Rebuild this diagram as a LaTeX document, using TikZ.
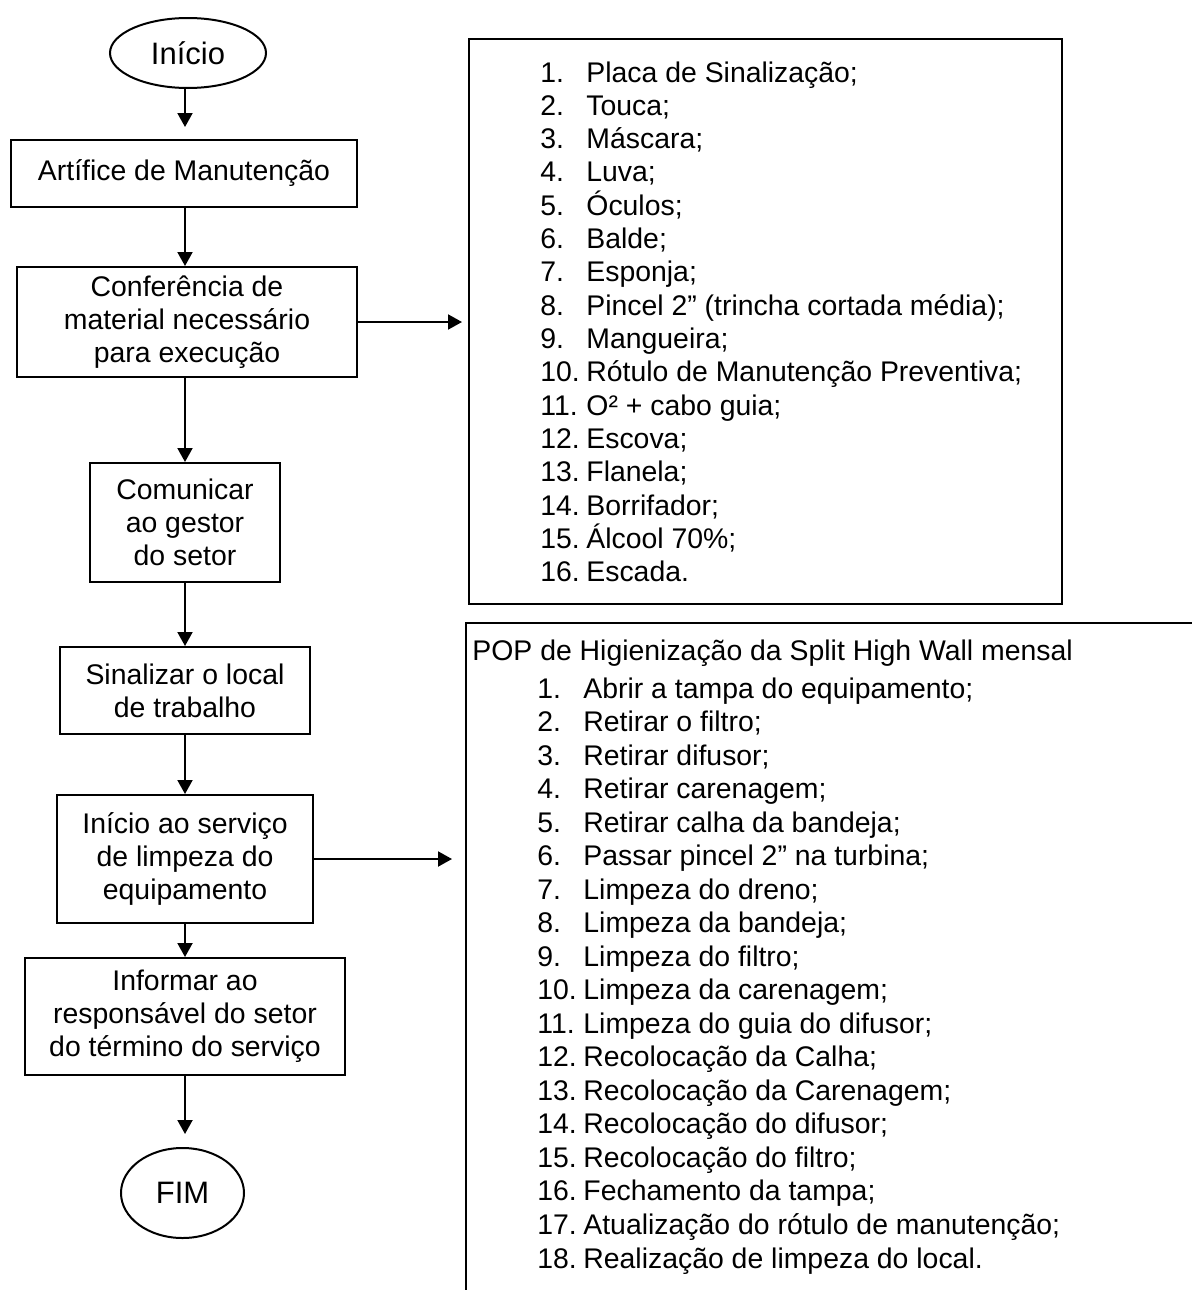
\documentclass[tikz,border=0pt]{standalone}
\usepackage{fontspec}
\setmainfont{Liberation Sans}
\usetikzlibrary{arrows.meta,shapes.geometric}
\begin{document}
\begin{tikzpicture}[x=0.5pt,y=-0.5pt,
  txt/.style={font=\fontsize{14.2pt}{16.5pt}\selectfont,inner sep=0pt},
  procbox/.style={txt,draw,line width=1pt,align=center},
  term/.style={font=\fontsize{15.5pt}{17pt}\selectfont,inner sep=0pt,draw,ellipse,line width=1pt},
  frame/.style={draw,line width=1pt,inner sep=0pt},
  flow/.style={line width=1pt,-{Triangle[length=7pt,width=7.5pt]}}]
\useasboundingbox (0,0) rectangle (1192,1290);
\coordinate (ax) at (185,0);
% left column
\node[term,minimum width=78pt,minimum height=35pt] (ini) at (188,53) {Início};
\node[procbox,minimum width=173pt,minimum height=33.5pt] (b1) at (184,173.5) {Artífice de Manutenção};
\node[procbox,minimum width=170pt,minimum height=55pt] (b2) at (187,322) {Conferência de\\material necessário\\para execução};
\node[procbox,minimum width=95pt,minimum height=59.5pt] (b3) at (185,522.5) {Comunicar\\ao gestor\\do setor};
\node[procbox,minimum width=125pt,minimum height=43.5pt] (b4) at (185,690.5) {Sinalizar o local\\de trabalho};
\node[procbox,minimum width=128pt,minimum height=64pt] (b5) at (185,859) {Início ao serviço\\de limpeza do\\equipamento};
\node[procbox,minimum width=160pt,minimum height=58.5pt] (b6) at (185,1016.5) {Informar ao\\responsável do setor\\do término do serviço};
\node[term,minimum width=61.5pt,minimum height=45pt] (fim) at (182.5,1193) {FIM};
\draw[flow,shorten >=6pt] (ini.south -| ax) -- (b1.north -| ax);
\draw[flow] (b1.south -| ax) -- (b2.north -| ax);
\draw[flow] (b2.south -| ax) -- (b3.north -| ax);
\draw[flow] (b3.south -| ax) -- (b4.north -| ax);
\draw[flow] (b4.south -| ax) -- (b5.north -| ax);
\draw[flow] (b5.south -| ax) -- (b6.north -| ax);
\draw[flow,shorten >=6.5pt] (b6.south -| ax) -- (fim.north -| ax);
% right boxes
\node[frame,anchor=north west,minimum width=296.5pt,minimum height=282.5pt] (lst) at (468,38) {};
\node[frame,anchor=north west,minimum width=380pt,minimum height=350pt] (pop) at (465,622) {};
\draw[flow,shorten >=3pt] (b2.east) -- (b2.east -| lst.west);
\draw[flow,shorten >=6.5pt] (b5.east) -- (b5.east -| pop.west);
% material list
\foreach \t [count=\i] in {{Placa de Sinalização;},{Touca;},{Máscara;},{Luva;},{Óculos;},{Balde;},{Esponja;},{Pincel 2” (trincha cortada média);},{Mangueira;},{Rótulo de Manutenção Preventiva;},{O² + cabo guia;},{Escova;},{Flanela;},{Borrifador;},{Álcool 70\%;},{Escada.}}{
  \node[txt,anchor=base west] (ma-\i) at (540,{82+33.33*(\i-1)}) {\i.};
  \node[txt,anchor=base west] (mb-\i) at (586,{82+33.33*(\i-1)}) {\t};
}
% POP list
\node[txt,anchor=base west] (poptitle) at (472,660) {POP de Higienização da Split High Wall mensal};
\foreach \t [count=\i] in {{Abrir a tampa do equipamento;},{Retirar o filtro;},{Retirar difusor;},{Retirar carenagem;},{Retirar calha da bandeja;},{Passar pincel 2” na turbina;},{Limpeza do dreno;},{Limpeza da bandeja;},{Limpeza do filtro;},{Limpeza da carenagem;},{Limpeza do guia do difusor;},{Recolocação da Calha;},{Recolocação da Carenagem;},{Recolocação do difusor;},{Recolocação do filtro;},{Fechamento da tampa;},{Atualização do rótulo de manutenção;},{Realização de limpeza do local.}}{
  \node[txt,anchor=base west] (pa-\i) at (537,{698+33.53*(\i-1)}) {\i.};
  \node[txt,anchor=base west] (pb-\i) at (583,{698+33.53*(\i-1)}) {\t};
}
\end{tikzpicture}
\end{document}
